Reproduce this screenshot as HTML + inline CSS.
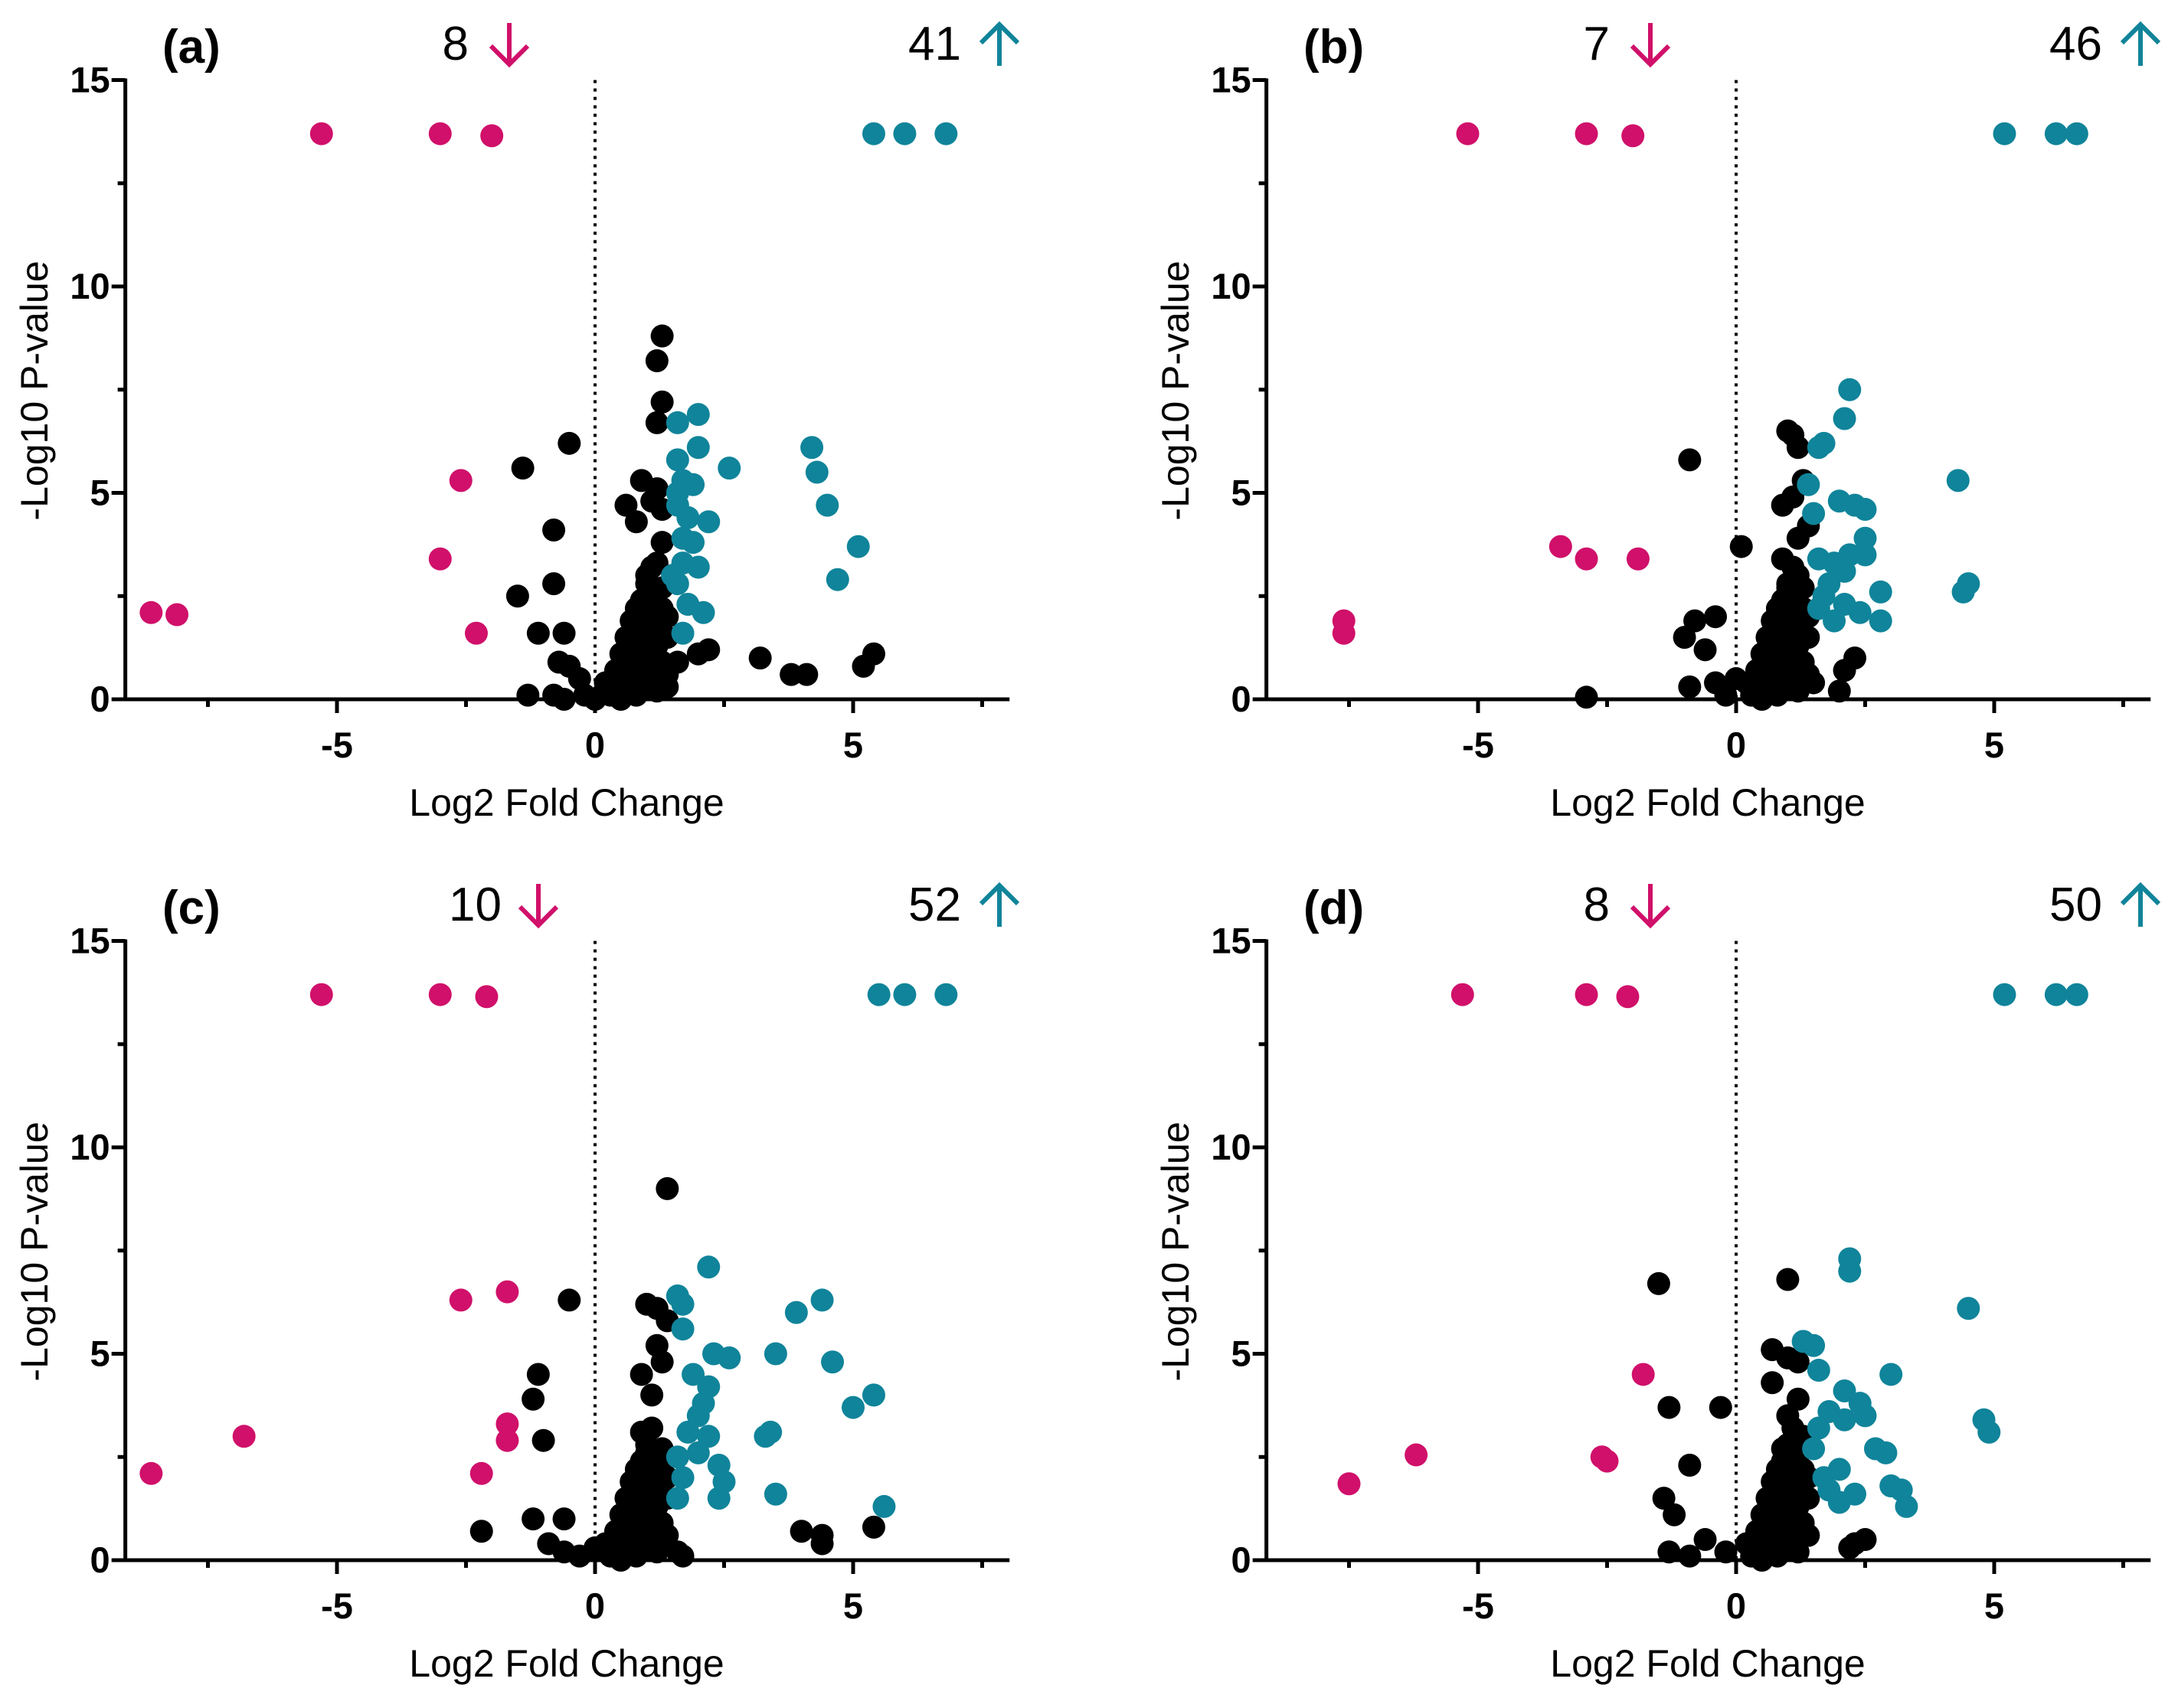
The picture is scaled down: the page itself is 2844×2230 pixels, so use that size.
<!DOCTYPE html>
<html><head><meta charset="utf-8"><style>
body{margin:0;background:#fff}
svg{display:block}
text{font-family:"Liberation Sans",Arial,sans-serif}
</style></head><body>
<svg id="fig" width="2844" height="2230" viewBox="0 0 2844 2230" xmlns="http://www.w3.org/2000/svg"></svg>
<script>
const panelLabels=["(a)","(b)","(c)","(d)"];
const downCounts=["8","7","10","8"];
const upCounts=["41","46","52","50"];
const xTicks=[-5,0,5];
const yTicks=[0,5,10,15];
const cluster=[[0.3,0.1],[0.4,0.3],[0.5,0.0],[0.6,0.5],[0.7,0.2],[0.8,0.8],[0.9,0.4],[1.0,1.0],[1.1,0.6],[1.2,1.3],[1.3,0.9],[0.5,1.1],[0.6,1.5],[0.7,1.9],[0.8,1.2],[0.9,1.7],[1.0,2.1],[1.1,2.5],[1.2,1.8],[1.3,2.2],[1.4,1.5],[0.9,2.4],[1.0,2.8],[1.1,3.2],[1.3,2.7],[0.4,0.7],[0.8,0.1],[1.2,0.2],[1.4,0.6],[0.2,0.4],[1.0,0.3],[0.7,1.0],[1.3,1.6],[0.6,0.2],[1.1,1.4],[0.9,1.0],[1.4,2.0],[0.5,0.6],[1.2,2.6],[0.8,2.2]];
const blackA=[[1.3,8.8],[1.2,8.2],[1.3,7.2],[1.2,6.7],[-0.5,6.2],[-1.4,5.6],[0.9,5.3],[0.6,4.7],[0.8,4.3],[1.1,4.8],[1.2,5.1],[1.3,4.6],[1.3,3.8],[1.2,3.3],[1.0,3.0],[-0.8,4.1],[-0.8,2.8],[-1.5,2.5],[-1.1,1.6],[-0.6,1.6],[-0.7,0.9],[-0.5,0.8],[-0.3,0.5],[-1.3,0.1],[-0.8,0.1],[-0.6,0.0],[-0.2,0.1],[0,0],[3.2,1.0],[3.8,0.6],[4.1,0.6],[5.2,0.8],[5.4,1.1],[2.2,1.2],[2.0,1.1],[1.4,0.3],[1.6,0.9]];
const tealA=[[5.4,13.7],[6.0,13.7],[6.8,13.7],[4.2,6.1],[4.3,5.5],[4.5,4.7],[5.1,3.7],[4.7,2.9],[1.6,6.7],[2.0,6.9],[2.0,6.1],[2.6,5.6],[1.6,5.8],[1.7,5.3],[1.9,5.2],[1.6,5.0],[1.8,4.4],[2.2,4.3],[1.7,3.9],[1.9,3.8],[1.7,3.3],[2.0,3.2],[1.6,2.8],[1.8,2.3],[2.1,2.1],[1.7,1.6],[1.5,3.0],[1.6,4.7]];
const pinkA=[[-8.6,2.1],[-8.1,2.05],[-5.3,13.7],[-3.0,13.7],[-2.0,13.65],[-2.6,5.3],[-3.0,3.4],[-2.3,1.6]];
const blackB=[[1.0,6.5],[1.1,6.4],[1.3,5.3],[1.2,6.1],[-0.9,5.8],[0.9,4.7],[1.1,4.9],[1.4,4.2],[1.2,3.9],[0.1,3.7],[0.9,3.4],[1.2,3.0],[1.0,2.7],[-0.4,2.0],[-0.8,1.9],[-1.0,1.5],[-0.6,1.2],[-2.9,0.05],[0,0.5],[-0.4,0.4],[-0.9,0.3],[2.0,0.2],[2.3,1.0],[2.1,0.7],[1.5,0.4],[-0.2,0.1]];
const tealB=[[5.2,13.7],[6.2,13.7],[6.6,13.7],[2.2,7.5],[2.1,6.8],[1.6,6.1],[1.7,6.2],[4.3,5.3],[1.4,5.2],[2.0,4.8],[2.3,4.7],[2.5,4.6],[1.5,4.5],[2.5,3.9],[2.5,3.5],[1.6,3.4],[1.9,3.3],[2.1,3.1],[1.8,2.8],[2.8,2.6],[2.1,2.3],[4.5,2.8],[4.4,2.6],[1.9,1.9],[2.8,1.9],[1.6,2.2],[2.2,3.5],[1.7,2.5],[2.4,2.1]];
const pinkB=[[-7.6,1.9],[-7.6,1.6],[-5.2,13.7],[-2.9,13.7],[-2.0,13.65],[-3.4,3.7],[-2.9,3.4],[-1.9,3.4]];
const blackC=[[1.4,9.0],[1.0,6.2],[1.2,6.1],[-0.5,6.3],[1.4,5.8],[1.2,5.2],[1.3,4.8],[0.9,4.5],[1.1,4.0],[-1.1,4.5],[-1.2,3.9],[-1.0,2.9],[0.9,3.1],[1.0,2.6],[-2.2,0.7],[-1.2,1.0],[-0.6,1.0],[-0.9,0.4],[-0.6,0.2],[4.0,0.7],[4.4,0.6],[4.4,0.4],[5.4,0.8],[1.6,0.2],[1.7,0.1],[1.2,0.5],[-0.3,0.1],[0,0.3]];
const tealC=[[5.5,13.7],[6.0,13.7],[6.8,13.7],[2.2,7.1],[1.6,6.4],[1.7,6.2],[1.7,5.6],[2.3,5.0],[2.6,4.9],[3.5,5.0],[3.9,6.0],[4.4,6.3],[4.6,4.8],[5.4,4.0],[5.0,3.7],[5.6,1.3],[3.4,3.1],[3.3,3.0],[3.5,1.6],[2.2,4.2],[2.1,3.8],[2.0,3.5],[1.8,3.1],[2.0,2.6],[1.6,2.5],[2.4,2.3],[2.5,1.9],[2.4,1.5],[1.7,2.0],[1.6,1.5],[1.9,4.5],[2.2,3.0]];
const pinkC=[[-8.6,2.1],[-6.8,3.0],[-5.3,13.7],[-3.0,13.7],[-2.1,13.65],[-2.6,6.3],[-1.7,6.5],[-1.7,3.3],[-1.7,2.9],[-2.2,2.1]];
const blackD=[[1.0,6.8],[-1.5,6.7],[0.7,5.1],[1.0,4.9],[1.2,4.8],[0.7,4.3],[-1.3,3.7],[-0.3,3.7],[1.2,3.9],[1.0,3.5],[1.3,3.0],[-0.9,2.3],[0.9,2.7],[-1.4,1.5],[-1.2,1.1],[-0.6,0.5],[-1.3,0.2],[2.3,0.4],[2.2,0.3],[2.5,0.5],[0.4,0.2],[-0.9,0.1],[-0.2,0.2]];
const tealD=[[5.2,13.7],[6.2,13.7],[6.6,13.7],[2.2,7.3],[2.2,7.0],[4.5,6.1],[1.3,5.3],[1.5,5.2],[1.6,4.6],[2.1,4.1],[3.0,4.5],[2.4,3.8],[1.8,3.6],[2.5,3.5],[2.1,3.4],[1.6,3.2],[4.8,3.4],[4.9,3.1],[2.7,2.7],[2.9,2.6],[1.5,2.7],[2.0,2.2],[3.0,1.8],[3.2,1.7],[3.3,1.3],[1.8,1.7],[2.3,1.6],[2.0,1.4],[1.7,2.0]];
const pinkD=[[-7.5,1.85],[-6.2,2.55],[-5.3,13.7],[-2.9,13.7],[-2.1,13.65],[-1.8,4.5],[-2.6,2.5],[-2.5,2.4]];
const blacks=[blackA,blackB,blackC,blackD],teals=[tealA,tealB,tealC,tealD],pinks=[pinkA,pinkB,pinkC,pinkD];

const NS="http://www.w3.org/2000/svg",svg=document.getElementById('fig');
function mk(tag,attrs,parent,txt){const e=document.createElementNS(NS,tag);for(const k in attrs)e.setAttribute(k,attrs[k]);if(txt!==undefined)e.textContent=txt;parent.appendChild(e);return e;}
const offs=[[0,0],[1490,0],[0,1124],[1490,1124]];
const XMIN=-9.1,XMAX=8.03;
for(let p=0;p<4;p++){
  const ox=offs[p][0],oy=offs[p][1];
  const xs=v=>ox+777+v*67.4, ys=v=>oy+913-v*53.9;
  const g=mk('g',{},svg);
  
  
  const z=mk('line',{x1:xs(0),x2:xs(0),y1:ys(15),y2:ys(0),stroke:'#000','stroke-width':4,'stroke-dasharray':'4 7'},g);
  
  const ya=mk('line',{x1:xs(XMIN),x2:xs(XMIN),y1:ys(15)-2,y2:ys(0)+2,stroke:'#000','stroke-width':5},g);
  
  const xa=mk('line',{x1:xs(XMIN)-2,x2:xs(XMAX),y1:ys(0),y2:ys(0),stroke:'#000','stroke-width':5},g);
  
  for(let v=0;v<=15;v+=2.5){const big=v%5===0;mk('line',{x1:xs(XMIN)-(big?18:10),x2:xs(XMIN),y1:ys(v),y2:ys(v),stroke:'#000','stroke-width':5},g);}
  for(let v=-7.5;v<=7.5;v+=2.5){const big=v%5===0;mk('line',{x1:xs(v),x2:xs(v),y1:ys(0),y2:ys(0)+(big?18:10),stroke:'#000','stroke-width':5},g);}
  yTicks.forEach(v=>{const t=mk('text',{x:xs(XMIN)-20,y:ys(v)+16,'text-anchor':'end','font-size':47,'font-weight':'bold'},g,String(v));});
  xTicks.forEach(v=>{const t=mk('text',{x:xs(v),y:ys(0)+76,'text-anchor':'middle','font-size':47,'font-weight':'bold'},g,String(v));});
  const xt=mk('text',{x:ox+740,y:oy+1065,'text-anchor':'middle','font-size':50},g,'Log2 Fold Change');
  
  const yt=mk('text',{x:0,y:0,'text-anchor':'middle','font-size':50,transform:`translate(${ox+62},${oy+510}) rotate(-90)`},g,'-Log10 P-value');
  
  const pl=mk('text',{x:ox+212,y:oy+82,'text-anchor':'start','font-size':62,'font-weight':'bold'},g,panelLabels[p]);
  
  const dc=mk('text',{x:ox+(p===2?655:612),y:oy+78,'text-anchor':'end','font-size':62},g,downCounts[p]);
  
  const ax=ox+(p===2?703:665);
  const da=mk('path',{d:`M${ax} ${oy+30}V${oy+84}M${ax-24} ${oy+60}L${ax} ${oy+84}L${ax+24} ${oy+60}`,stroke:'#d0106a','stroke-width':6,fill:'none'},g);
  
  const uc=mk('text',{x:ox+1255,y:oy+78,'text-anchor':'end','font-size':62},g,upCounts[p]);
  
  const ux=ox+1305;
  const ua=mk('path',{d:`M${ux} ${oy+86}V${oy+32}M${ux-24} ${oy+56}L${ux} ${oy+32}L${ux+24} ${oy+56}`,stroke:'#10849a','stroke-width':6,fill:'none'},g);
  
  const draw=(arr,col,name)=>arr.forEach(d=>{const c=mk('circle',{cx:xs(d[0]),cy:ys(d[1]),r:15,fill:col},g);
    
    });
  draw(cluster,'#000','point-ns');
  draw(blacks[p],'#000','point-ns');
  draw(teals[p],'#10849a','point-up');
  draw(pinks[p],'#d0106a','point-down');
}
</script>
</body></html>
